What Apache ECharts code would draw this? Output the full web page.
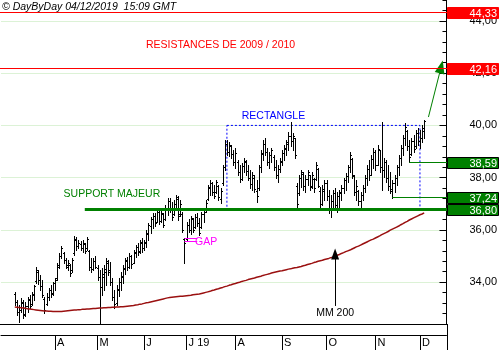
<!DOCTYPE html>
<html><head><meta charset="utf-8">
<script src="https://cdn.jsdelivr.net/npm/echarts@6/dist/echarts.min.js"></script>
<style>html,body{margin:0;padding:0;background:#fff}#c{width:500px;height:350px}</style>
</head><body><div id="c"></div>
<script>
// ---------- data ----------
const startDate = '2019-02-25';          // first (empty) category
const padBefore = 6;                     // empty trading days before first bar (2019-03-05)
const padAfter = 10;                     // empty trading days after last bar (2019-12-04)
const holidays = ['2019-04-19','2019-04-22','2019-05-01','2019-12-25','2019-12-26'];
const monthLabels = {'2019-04':'A','2019-05':'M','2019-06':'J','2019-07':'J 19','2019-08':'A','2019-09':'S','2019-10':'O','2019-11':'N','2019-12':'D'};
const yTicks = [34, 36, 38, 40, 42, 44];

const opens = [
33.55,33.25,32.85,32.95,33.20,32.80,33.10,33.30,33.15,33.50,
34.05,34.40,34.10,33.85,33.35,33.15,33.45,33.70,33.60,33.95,
34.15,34.60,35.00,35.10,34.85,34.60,34.65,34.45,35.10,35.60,
35.40,35.45,35.30,35.45,35.30,35.20,34.60,34.50,34.80,34.55,
34.20,33.80,34.20,34.40,34.75,34.45,34.00,33.45,33.20,33.70,
34.00,34.20,34.50,34.80,34.60,35.00,34.75,35.10,35.35,35.20,
35.50,35.30,35.50,35.85,36.15,36.40,36.55,36.30,36.70,36.35,
36.60,36.40,36.85,37.10,36.80,36.60,37.00,37.20,36.60,36.60,
35.65,35.65,36.20,36.00,36.40,36.10,36.50,36.25,36.10,36.60,
36.75,37.20,37.60,37.80,37.45,37.45,37.70,37.20,37.80,38.40,
39.30,39.00,39.20,38.90,38.60,38.60,38.20,37.95,38.45,38.60,
38.25,38.00,37.75,38.00,37.50,37.60,38.40,38.90,39.30,39.00,
38.60,38.85,38.80,38.40,38.10,38.35,38.60,38.95,39.10,39.30,
39.60,39.40,39.50,37.70,37.40,38.00,38.15,37.70,37.95,38.10,
37.70,37.95,37.95,38.35,37.50,37.00,37.50,37.80,37.30,36.80,
37.10,37.40,36.95,37.30,37.40,37.60,37.90,38.05,38.40,38.70,
38.05,37.45,37.50,37.10,37.35,37.60,38.00,38.35,38.10,38.70,
39.00,38.50,39.05,38.40,38.30,38.60,38.00,37.70,37.50,37.80,
38.00,38.40,38.75,39.15,39.50,39.80,39.20,38.90,39.40,39.20,
39.70,39.40,39.50,39.80];
const highs = [
33.63,33.32,33.13,33.40,33.32,33.24,33.43,33.51,33.63,33.89,
34.58,34.47,34.28,34.08,33.43,33.59,33.78,33.89,34.01,34.16,
34.74,35.12,35.39,35.16,34.93,34.85,34.70,34.93,35.77,35.73,
35.62,35.58,35.62,35.50,35.73,35.23,34.93,34.93,35.00,34.66,
34.47,34.54,34.66,34.93,34.85,34.77,34.16,33.70,33.89,34.16,
34.39,34.66,34.93,34.96,35.12,35.04,35.23,35.42,35.50,35.62,
35.69,35.62,36.00,36.27,36.50,36.65,36.65,36.84,36.72,36.76,
36.65,36.95,37.22,37.22,37.07,37.15,37.34,37.30,37.15,36.69,
35.69,36.30,36.42,36.53,36.46,36.61,36.65,36.46,36.69,36.76,
37.15,37.72,37.91,37.83,37.72,37.91,37.72,37.61,38.49,39.44,
39.44,39.37,39.25,39.06,39.14,38.68,38.49,38.56,38.75,38.68,
38.49,38.29,38.22,38.10,37.91,38.49,39.06,39.44,39.52,39.14,
38.98,39.14,38.87,38.68,38.49,38.75,39.06,39.25,39.44,39.75,
40.13,39.71,39.52,37.80,38.10,38.29,38.22,38.10,38.29,38.10,
38.22,37.99,38.60,38.37,37.64,37.72,37.91,37.91,37.53,37.34,
37.53,37.61,37.45,37.53,37.72,37.99,38.18,38.49,38.98,38.75,
38.10,37.91,37.53,37.45,37.72,38.10,38.49,38.68,38.87,39.14,
39.06,39.25,39.06,40.13,38.75,38.68,38.49,38.22,37.91,38.10,
38.49,38.87,39.25,39.63,40.09,39.82,39.44,39.52,39.63,39.82,
39.90,39.82,40.02,40.21];
const lows = [
33.13,32.75,32.48,32.86,32.63,32.71,32.86,33.01,33.13,33.32,
33.97,33.93,33.70,33.43,32.82,33.13,33.32,33.43,33.51,33.70,
34.08,34.54,34.93,34.74,34.54,34.47,34.24,34.39,35.04,35.23,
35.31,35.23,35.16,35.12,35.23,34.47,34.39,34.47,34.54,34.08,
32.42,33.51,33.70,33.89,34.28,33.89,33.32,33.01,33.13,33.47,
33.70,33.97,34.31,34.47,34.54,34.54,34.74,34.96,35.04,35.12,
35.16,35.23,35.35,35.62,35.88,36.07,36.15,36.30,36.23,36.30,
36.11,36.38,36.57,36.69,36.38,36.57,36.76,36.38,36.53,35.92,
34.74,35.62,35.92,35.84,35.92,36.07,36.15,35.81,36.07,36.30,
36.69,37.15,37.34,37.34,37.22,37.41,37.15,37.03,37.72,38.29,
38.87,38.83,38.75,38.49,38.37,38.10,37.83,37.91,38.22,38.10,
37.91,37.61,37.53,37.45,37.07,37.53,38.22,38.68,38.87,38.49,
38.37,38.60,38.29,37.99,37.83,38.22,38.49,38.68,38.87,39.06,
39.21,39.06,38.75,36.84,37.34,37.64,37.53,37.45,37.72,37.53,
37.61,37.45,37.91,37.64,36.88,36.95,37.15,37.15,36.65,36.50,
36.76,36.84,36.69,36.88,37.15,37.41,37.53,37.83,38.22,37.99,
37.34,37.15,36.95,36.84,37.15,37.45,37.72,37.91,38.10,38.37,
38.29,38.49,38.22,37.53,38.03,37.83,37.53,37.41,37.24,37.45,
37.72,38.10,38.49,38.87,39.25,39.06,38.59,38.87,38.98,39.14,
39.25,39.14,39.37,39.52];
const closes = [
33.25,32.85,32.95,33.25,32.75,33.10,33.35,33.10,33.55,33.85,
34.45,34.10,33.85,33.50,32.95,33.45,33.70,33.55,33.95,34.10,
34.65,35.00,35.30,34.85,34.65,34.75,34.35,34.85,35.65,35.40,
35.50,35.30,35.50,35.20,35.65,34.60,34.50,34.80,34.60,34.20,
33.80,34.30,34.50,34.80,34.40,34.00,33.45,33.15,33.75,34.00,
34.25,34.55,34.85,34.60,35.00,34.70,35.15,35.35,35.15,35.55,
35.30,35.55,35.90,36.20,36.40,36.55,36.25,36.75,36.35,36.65,
36.20,36.85,37.10,36.80,36.50,37.00,37.25,36.55,37.00,36.00,
35.50,36.20,36.00,36.45,36.00,36.50,36.25,35.90,36.60,36.70,
37.05,37.65,37.80,37.45,37.30,37.85,37.25,37.50,38.40,39.30,
39.00,39.25,38.90,38.60,38.95,38.20,37.95,38.45,38.65,38.25,
38.00,37.75,38.10,37.55,37.30,38.40,38.95,39.30,39.00,38.60,
38.85,39.05,38.40,38.10,38.35,38.65,38.95,39.15,39.35,39.60,
39.40,39.60,38.85,37.00,38.00,38.20,37.70,37.95,38.20,37.65,
38.10,37.60,38.50,37.70,37.00,37.55,37.80,37.30,36.80,37.10,
37.40,36.95,37.30,37.45,37.60,37.90,38.05,38.40,38.85,38.10,
37.45,37.70,37.10,37.35,37.60,38.00,38.35,38.10,38.70,39.00,
38.50,39.10,38.40,38.30,38.60,38.00,37.70,37.55,37.80,38.00,
38.40,38.75,39.15,39.50,39.95,39.20,38.80,39.40,39.10,39.70,
39.40,39.50,39.90,40.15];
const mm200 = [
33.05,33.04,33.03,33.02,33.01,33.00,32.98,
32.97,32.96,32.95,32.94,32.93,32.92,32.91,
32.90,32.90,32.89,32.89,32.88,32.88,32.88,
32.88,32.88,32.89,32.90,32.91,32.92,32.93,
32.94,32.94,32.95,32.95,32.96,32.96,32.97,32.97,32.98,32.99,32.99,33.00,
33.01,33.01,33.02,33.02,33.03,33.03,33.04,33.04,33.05,33.05,33.06,33.06,
33.07,33.08,33.09,33.10,33.11,33.13,33.14,33.16,33.17,33.19,33.21,33.22,
33.24,33.26,33.28,33.30,33.32,33.34,33.36,33.38,
33.40,33.41,33.42,33.43,33.44,33.45,33.46,33.46,
33.47,33.48,33.49,33.50,33.52,33.53,33.54,
33.55,33.57,33.59,33.61,33.63,33.65,33.68,
33.70,33.73,33.75,33.78,33.80,33.83,33.85,33.88,33.90,
33.93,33.95,33.98,34.00,34.03,34.05,34.07,34.10,
34.12,34.14,34.16,34.19,34.21,34.23,34.26,34.28,34.30,34.32,34.35,34.37,
34.39,34.41,34.43,34.44,34.46,34.48,34.50,34.51,34.53,34.55,34.56,
34.58,34.60,34.63,34.65,34.68,34.70,34.72,34.75,34.77,34.80,34.82,34.84,34.87,34.89,34.91,34.94,
34.96,34.99,35.03,35.06,35.10,35.13,35.17,35.20,
35.23,35.27,35.31,35.35,35.38,35.42,35.46,35.50,35.54,35.58,35.62,35.65,
35.69,35.73,35.77,35.82,35.86,35.90,35.94,35.99,36.03,36.07,36.11,
36.15,36.20,36.24,36.29,36.33,
36.38,36.42,36.46,36.50,36.54,36.58,36.61,36.65];

// annotation levels (values and dates)
const resistances = [44.33, 42.16];
const supportLevel = 36.80, supportFrom = '2019-04-23';
const recentLows = [[37.24, '2019-11-13'], [38.59, '2019-11-25']];
const rectRange = ['2019-07-26', '2019-12-02'];
const rectLevels = [40.00, 36.80];
const gapDates = ['2019-06-28', '2019-07-08'];
const gapLevels = [35.67, 35.58];
const mmArrow = ['2019-10-07', 33.09, 35.08];
const upArrow = [['2019-12-06', 40.32], ['2019-12-16', 42.24]];
const tags = [[44.33,'#ff0000'],[42.16,'#ff0000'],[38.59,'#008000'],[37.24,'#008000'],[36.80,'#008000']];

// ---------- categories (trading days) ----------
function tradingDays(start, n) {
  const out = []; const d = new Date(start + 'T00:00:00Z');
  while (out.length < n) {
    const wd = d.getUTCDay(); const s = d.toISOString().slice(0, 10);
    if (wd !== 0 && wd !== 6 && holidays.indexOf(s) < 0) out.push(s);
    d.setUTCDate(d.getUTCDate() + 1);
  }
  return out;
}
const categories = tradingDays(startDate, padBefore + opens.length + padAfter);
const idx = d => categories.indexOf(d);
const isMonthStart = i => {
  const m = categories[i].slice(0, 7);
  return i > 0 && categories[i - 1].slice(0, 7) !== m && monthLabels[m] !== undefined;
};

const bars = opens.map((o, k) => [padBefore + k, o, highs[k], lows[k], closes[k]]);
const mmData = mm200.map((v, k) => [padBefore + k, v]);

const FONT = 'Liberation Sans, Arial, sans-serif';
const chart = echarts.init(document.getElementById('c'), null, {renderer: 'canvas'});

const markLines = [];
gapLevels.forEach(v => markLines.push([{coord: [idx(gapDates[0]), v], lineStyle: {color: '#ff00ff', width: 1, type: 'solid'}}, {coord: [idx(gapDates[1]), v]}]));
markLines.push([{coord: [idx(mmArrow[0]), mmArrow[1]], lineStyle: {color: '#000', width: 1, type: 'solid'}}, {coord: [idx(mmArrow[0]), mmArrow[2]], symbol: 'triangle', symbolSize: [8, 11]}]);
markLines.push([{coord: [idx(upArrow[0][0]), upArrow[0][1]], lineStyle: {color: '#008000', width: 1, type: 'solid'}}, {coord: [idx(upArrow[1][0]), upArrow[1][1]], symbol: 'triangle', symbolSize: [10, 13]}]);

chart.setOption({
  animation: false,
  backgroundColor: '#fff',
  grid: {left: 1, right: 53, top: 0, bottom: 26, containLabel: false},
  xAxis: {
    type: 'category', data: categories, boundaryGap: true, position: 'bottom', offset: 11,
    axisLine: {show: true, lineStyle: {color: '#000', width: 1}},
    axisTick: {show: true, alignWithLabel: true, length: 15, interval: (i) => isMonthStart(i), lineStyle: {color: '#000'}},
    axisLabel: {show: true, interval: (i) => isMonthStart(i), formatter: (v) => monthLabels[v.slice(0, 7)] || '',
      align: 'left', margin: 2, padding: [0, 0, 0, 2], fontSize: 11, fontFamily: FONT, color: '#000'},
    splitLine: {show: false}
  },
  yAxis: [{
    type: 'value', position: 'right', min: 32.4, max: 44.8, scale: true,
    axisLine: {show: true, lineStyle: {color: '#000', width: 1}},
    axisTick: {show: true, inside: true, length: 7, customValues: yTicks, lineStyle: {color: '#000'}},
    axisLabel: {show: true, customValues: yTicks, inside: false, margin: 23, fontSize: 11, fontFamily: FONT, color: '#000',
      formatter: v => v.toFixed(2).replace('.', ',')},
    splitLine: {show: true, lineStyle: {color: '#dcf2d6', width: 1}}
  }, {
    type: 'value', position: 'right', min: 32.4, max: 44.8, interval: 0.4,
    axisLine: {show: false},
    axisTick: {show: true, inside: true, length: 4, lineStyle: {color: '#000'}},
    axisLabel: {show: false}, splitLine: {show: false}
  }],
  series: [{
    type: 'custom', name: 'OHLC', data: bars, encode: {x: 0, y: [1, 2, 3, 4]}, clip: true, z: 3,
    renderItem: function (params, api) {
      const i = api.value(0);
      const o = api.coord([i, api.value(1)]);
      const h = api.coord([i, api.value(2)]);
      const l = api.coord([i, api.value(3)]);
      const c = api.coord([i, api.value(4)]);
      const x = Math.round(h[0]) + 0.5;
      const st = {stroke: '#000', lineWidth: 1};
      const yo = Math.round(o[1]) + 0.5, yc = Math.round(c[1]) + 0.5;
      return {type: 'group', children: [
        {type: 'line', shape: {x1: x, y1: Math.round(h[1]), x2: x, y2: Math.round(l[1]) + 1}, style: st},
        {type: 'line', shape: {x1: x - 1.5, y1: yo, x2: x, y2: yo}, style: st},
        {type: 'line', shape: {x1: x, y1: yc, x2: x + 1.5, y2: yc}, style: st}
      ]};
    }
  }, {
    type: 'line', name: 'MM 200', data: mmData, showSymbol: false, symbol: 'none', z: 4,
    lineStyle: {color: '#9a1010', width: 1.5}, silent: true,
    markLine: {silent: true, symbol: ['none', 'none'], label: {show: false}, data: markLines, animation: false},
    markArea: {silent: true, label: {show: false},
      itemStyle: {color: 'rgba(0,0,0,0)', borderColor: '#0000ff', borderWidth: 1, borderType: [2, 2]},
      data: [[{coord: [idx(rectRange[0]), rectLevels[0]]}, {coord: [idx(rectRange[1]), rectLevels[1]]}]]}
  }]
});

// ---------- level lines, texts & price tags placed through the chart's own scales ----------
const P = (i, v) => chart.convertToPixel({xAxisIndex: 0, yAxisIndex: 0}, [i, v]);
const Y = v => chart.convertToPixel({yAxisIndex: 0}, v);
const crisp = v => Math.floor(Y(v)) + 0.5;
const txt = (pt, text, color, align, size) => ({
  type: 'text', x: pt[0], y: pt[1], z: 100,
  style: {text: text, fill: color, font: (size || 10.5) + 'px ' + FONT, align: align, textAlign: align, verticalAlign: 'middle', textVerticalAlign: 'middle'}
});
const gb = 350 - 26, gr = 500 - 53;
const g = [];
const hline = (x1, v, color, w) => g.push({type: 'line', z: 40, shape: {x1: x1, y1: crisp(v), x2: gr, y2: crisp(v)}, style: {stroke: color, lineWidth: w}});
resistances.forEach(v => hline(0, v, '#ff0000', 1));
hline(P(idx(supportFrom), supportLevel)[0], supportLevel, '#008000', 3);
recentLows.forEach(([v, d]) => hline(P(idx(d), v)[0], v, '#008000', 1));

g.push({type: 'text', x: 2, y: 2, z: 100, style: {text: '\u00a9 DayByDay 04/12/2019  15:09 GMT', fill: '#000', font: 'italic 10.5px ' + FONT, align: 'left', verticalAlign: 'top', textAlign: 'left', textVerticalAlign: 'top'}});
g.push(txt(P(idx('2019-07-23'), 43.08), 'RESISTANCES DE 2009 / 2010', '#ff0000', 'center'));
g.push(txt(P(idx('2019-04-05'), 37.38), 'SUPPORT MAJEUR', '#008000', 'left'));
g.push(txt(P(idx('2019-08-06'), 40.35), 'RECTANGLE', '#0000ff', 'left'));
g.push(txt(P(idx('2019-07-05'), 35.52), 'GAP', '#ff00ff', 'left'));
g.push(txt(P(idx('2019-10-07'), 32.80), 'MM 200', '#000', 'center'));
// frame lines
g.push({type: 'line', z: 50, shape: {x1: 0, y1: gb + 0.5, x2: gr, y2: gb + 0.5}, style: {stroke: '#000', lineWidth: 1}});
g.push({type: 'line', z: 50, shape: {x1: gr + 0.5, y1: gb, x2: gr + 0.5, y2: 350}, style: {stroke: '#000', lineWidth: 1}});
// price tags
tags.forEach(([v, color]) => {
  const yc = Y(v);
  const top = Math.round(yc - 5.5) + 0.5;
  g.push({type: 'rect', z: 60, shape: {x: gr + 0.5, y: top, width: 51, height: 11},
    style: {fill: color, stroke: color === '#ff0000' ? '#ff0000' : '#000', lineWidth: 1}});
  g.push({type: 'text', z: 61, x: 497, y: top + 6, style: {text: v.toFixed(2).replace('.', ','), fill: '#fff', font: '11px ' + FONT,
    align: 'right', textAlign: 'right', verticalAlign: 'middle', textVerticalAlign: 'middle'}});
});
chart.setOption({graphic: {elements: g}});
</script>
</body></html>
